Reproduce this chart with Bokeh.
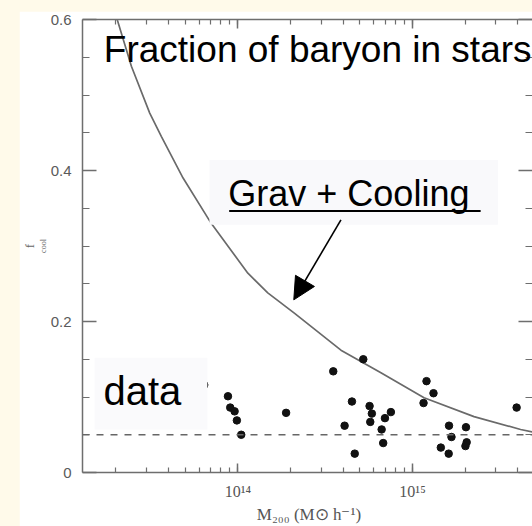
import numpy as np
from bokeh.plotting import figure
from bokeh.models import (LogAxis, LinearAxis, Range1d, FixedTicker, LogTicker, Title,
                          CustomJSTickFormatter, Label, Arrow, NormalHead, BoxAnnotation, Span)
from bokeh.layouts import column
from bokeh.embed import file_html
from bokeh.resources import INLINE

# ---------------- data ----------------
# cluster data: log10(M200 / Msun h^-1) and f_cool
cluster_logM = [13.807, 13.943, 13.956, 13.981, 13.994, 14.019, 14.276, 14.546, 14.718,
                14.653, 14.611, 14.669, 14.754, 14.767, 14.758, 14.876, 14.842, 14.823,
                14.832, 15.080, 15.120, 15.063, 15.209, 15.223, 15.162, 15.207, 15.306,
                15.310, 15.303, 15.596]
cluster_fcool = [0.116, 0.101, 0.086, 0.081, 0.069, 0.050, 0.079, 0.134, 0.150,
                 0.094, 0.062, 0.025, 0.088, 0.078, 0.067, 0.080, 0.072, 0.057,
                 0.039, 0.121, 0.105, 0.092, 0.062, 0.047, 0.033, 0.025, 0.060,
                 0.040, 0.035, 0.086]

# simulation curve "Grav + Cooling"
curve_logM = [13.28, 13.310, 13.390, 13.495, 13.562, 13.686, 13.847, 14.057, 14.171,
              14.323, 14.590, 14.819, 15.066, 15.352, 15.619, 15.70]
curve_fcool = [0.630, 0.599, 0.538, 0.476, 0.445, 0.390, 0.330, 0.264, 0.238,
               0.211, 0.162, 0.132, 0.099, 0.074, 0.057, 0.053]

observed_fraction = 0.05          # dashed horizontal line
x_limits_logM = (13.11, 15.687)
y_limits = (0.0, 0.6)
y_major_ticks = [0.0, 0.2, 0.4, 0.6]
y_minor_ticks = [0.05, 0.1, 0.15, 0.25, 0.3, 0.35, 0.45, 0.5, 0.55]

title_text = "Fraction of baryon in stars"
curve_text = "Grav + Cooling"
data_text = "data"
x_label = "M\u2082\u2080\u2080 (M\u2299 h\u207b\u00b9)"
y_label_main = "f"
y_label_sub = "cool"

CREAM = "#FFFAEA"
AXIS_COLOR = "#6e6e6e"

p = figure(width=513, height=515, x_axis_type="log",
           x_range=Range1d(10 ** x_limits_logM[0], 10 ** x_limits_logM[1]),
           y_range=Range1d(*y_limits),
           output_backend="svg", toolbar_location=None,
           min_border_left=62, min_border_right=0, min_border_top=8, min_border_bottom=53,
           border_fill_color="white", background_fill_color="white",
           outline_line_color=None, margin=(11, 0, 0, 19))
p.grid.visible = False


def style_axis(ax, maj_in, min_in):
    ax.axis_line_color = AXIS_COLOR
    ax.axis_line_width = 1.5
    ax.major_tick_line_color = AXIS_COLOR
    ax.minor_tick_line_color = AXIS_COLOR
    ax.major_tick_line_width = 1.5
    ax.minor_tick_line_width = 1.2
    ax.major_tick_in = maj_in
    ax.major_tick_out = 0
    ax.minor_tick_in = min_in
    ax.minor_tick_out = 0


def hide_labels(ax):
    ax.major_label_text_font_size = "1px"
    ax.major_label_text_alpha = 0
    ax.major_label_standoff = 0


sup_code = """
const sup = {"0":"\u2070","1":"\u00b9","2":"\u00b2","3":"\u00b3","4":"\u2074","5":"\u2075",
             "6":"\u2076","7":"\u2077","8":"\u2078","9":"\u2079","-":"\u207b"};
const e = Math.round(Math.log10(tick));
return "10" + String(e).split("").map(c => sup[c]).join("");
"""

xa = p.xaxis[0]
xa.ticker = LogTicker(num_minor_ticks=10)
xa.formatter = CustomJSTickFormatter(code=sup_code)
style_axis(xa, 9, 5)
xa.major_label_text_font = "Liberation Serif"
xa.major_label_text_font_size = "16px"
xa.major_label_text_color = "#555555"
xa.major_label_standoff = 10
xa.axis_label = x_label
xa.axis_label_text_font = "Liberation Serif"
xa.axis_label_text_font_style = "normal"
xa.axis_label_text_font_size = "17px"
xa.axis_label_text_color = "#555555"
xa.axis_label_standoff = 2

ya = p.yaxis[0]
ya.ticker = FixedTicker(ticks=y_major_ticks, minor_ticks=y_minor_ticks)
style_axis(ya, 14, 7)
ya.major_label_text_font = "Liberation Sans"
ya.major_label_text_font_size = "15px"
ya.major_label_text_color = "#5a5a5a"
ya.major_label_standoff = 11

top = LogAxis(ticker=LogTicker(num_minor_ticks=10))
style_axis(top, 9, 5)
hide_labels(top)
p.add_layout(top, "above")

right = LinearAxis(ticker=FixedTicker(ticks=y_major_ticks, minor_ticks=y_minor_ticks))
style_axis(right, 14, 7)
hide_labels(right)
right.axis_line_alpha = 0
p.add_layout(right, "right")

# y-axis title f_cool: subscript first (closest to the axis), then the f
p.add_layout(Title(text=y_label_sub, text_font="Liberation Serif", text_font_size="8px",
                   text_font_style="normal", text_color="#666666", standoff=0,
                   align="center", offset=-6), "left")
p.add_layout(Title(text=y_label_main, text_font="Liberation Serif", text_font_size="13px",
                   text_font_style="normal", text_color="#666666", standoff=0,
                   align="center", offset=7), "left")

# curve, dashed line, points
p.line(10 ** np.array(curve_logM), curve_fcool, line_color="#6a6a6a", line_width=1.7)
p.add_layout(Span(location=observed_fraction, dimension="width", line_color="#666666",
                  line_width=1.4, line_dash="7 7"))
p.scatter(10 ** np.array(cluster_logM), cluster_fcool, size=7.5, color="#111111")

# text boxes
p.add_layout(BoxAnnotation(left=10 ** 13.837, right=10 ** 15.489, top=0.414, bottom=0.328,
                           fill_color="#F9F9FB", fill_alpha=1.0, line_alpha=0))
p.add_layout(BoxAnnotation(left=10 ** 13.179, right=10 ** 13.825, top=0.152, bottom=0.057,
                           fill_color="#FAFAFC", fill_alpha=1.0, line_alpha=0))

p.add_layout(Label(x=10 ** 13.232, y=0.560, text=title_text, text_font="Liberation Sans",
                   text_font_size="37px", text_color="black", text_baseline="alphabetic"))
p.add_layout(Label(x=10 ** 13.945, y=0.370, text=curve_text, text_font="Liberation Sans",
                   text_font_size="36px", text_color="black", text_baseline="alphabetic"))
p.add_layout(Arrow(end=None, x_start=10 ** 13.950, y_start=0.3465, x_end=10 ** 15.39,
                   y_end=0.3465, line_color="black", line_width=2))
p.add_layout(Label(x=10 ** 13.230, y=0.1075, text=data_text, text_font="Liberation Sans",
                   text_font_size="40px", text_color="black", text_baseline="alphabetic"))

p.add_layout(Arrow(end=NormalHead(size=22, fill_color="black", line_color="black"),
                   x_start=10 ** 14.590, y_start=0.3346, x_end=10 ** 14.320, y_end=0.2287,
                   line_color="black", line_width=1.6))

layout = column(p, styles={"background-color": CREAM}, width=532, height=526)

open("out.html", "w").write(file_html(layout, INLINE))
